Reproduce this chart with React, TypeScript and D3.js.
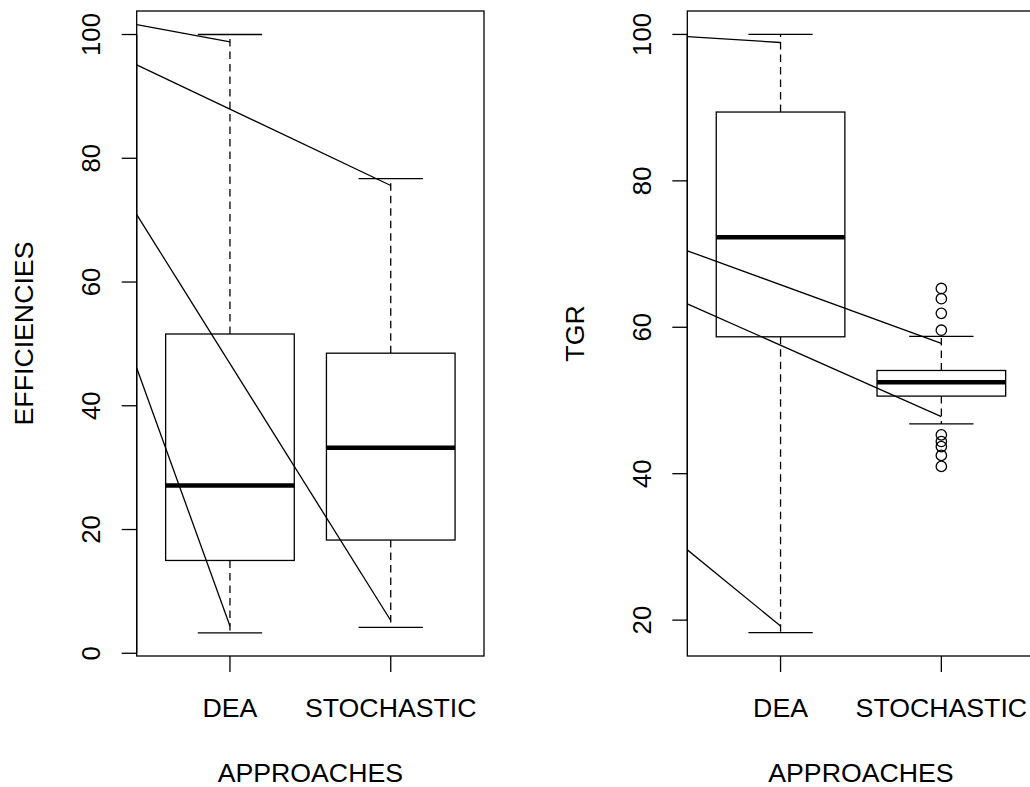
import React from "react";
import * as d3 from "d3";

const categories = ["DEA", "STOCHASTIC"];

// five-number summaries: [lowerWhisker, Q1, median, Q3, upperWhisker]
const efficiencyStats = [
  [3.3, 15.0, 27.1, 51.6, 100],
  [4.2, 18.3, 33.2, 48.5, 76.7],
];
const efficiencyOutliers: number[][] = [[], []];

const tgrStats = [
  [18.3, 58.7, 72.3, 89.4, 100],
  [46.8, 50.6, 52.5, 54.1, 58.75],
];
const tgrOutliers: number[][] = [
  [],
  [65.3, 63.9, 61.9, 59.6, 45.3, 44.4, 43.7, 42.5, 41.0],
];

// annotation lines: value at left plot edge -> category, value
const efficiencyLines = [
  { from: 101.6, to: "DEA", toValue: 98.8 },
  { from: 95.1, to: "STOCHASTIC", toValue: 75.6 },
  { from: 70.9, to: "STOCHASTIC", toValue: 5.3 },
  { from: 46.1, to: "DEA", toValue: 4.4 },
];
const tgrLines = [
  { from: 99.7, to: "DEA", toValue: 98.9 },
  { from: 70.45, to: "STOCHASTIC", toValue: 57.8 },
  { from: 63.2, to: "STOCHASTIC", toValue: 47.8 },
  { from: 29.6, to: "DEA", toValue: 19.2 },
];

const efficiencyTicks = [0, 20, 40, 60, 80, 100];
const tgrTicks = [20, 40, 60, 80, 100];

const FONT = "'Liberation Sans', Arial, Helvetica, sans-serif";
const FS = 26.7;
const FS_NUM = 25.8;
const LW = 1.3;

type Panel = {
  left: number;
  right: number;
  top: number;
  bottom: number;
  yDomain: [number, number];
  ticks: number[];
  stats: number[][];
  outliers: number[][];
  lines: { from: number; to: string; toValue: number }[];
  ylab: string;
  id: string;
};

const panels: Panel[] = [
  {
    id: "p1",
    left: 136.7,
    right: 484,
    top: 11,
    bottom: 656,
    yDomain: [-0.44, 103.8],
    ticks: efficiencyTicks,
    stats: efficiencyStats,
    outliers: efficiencyOutliers,
    lines: efficiencyLines,
    ylab: "EFFICIENCIES",
  },
  {
    id: "p2",
    left: 687.3,
    right: 1034.6,
    top: 11,
    bottom: 656,
    yDomain: [15.1, 103.2],
    ticks: tgrTicks,
    stats: tgrStats,
    outliers: tgrOutliers,
    lines: tgrLines,
    ylab: "TGR",
  },
];

function PanelView({ p }: { p: Panel }) {
  const x = d3.scaleLinear().domain([0.42, 2.58]).range([p.left, p.right]);
  const y = d3.scaleLinear().domain(p.yDomain).range([p.bottom, p.top]);
  const catX = (c: string) => x(categories.indexOf(c) + 1);
  const boxHalf = x(1.4) - x(1);
  const capHalf = boxHalf / 2;
  const cx = (p.left + p.right) / 2;
  const cy = (p.top + p.bottom) / 2;
  return (
    <g>
      <defs>
        <clipPath id={"clip-" + p.id}>
          <rect x={p.left} y={p.top} width={p.right - p.left} height={p.bottom - p.top} />
        </clipPath>
      </defs>
      {p.stats.map((s, i) => {
        const xc = x(i + 1);
        const [lo, q1, med, q3, hi] = s;
        return (
          <g key={i} stroke="#000" fill="none">
            <line x1={xc} x2={xc} y1={y(q3)} y2={y(hi)} strokeWidth={LW} strokeDasharray="7.5,5" />
            <line x1={xc} x2={xc} y1={y(q1)} y2={y(lo)} strokeWidth={LW} strokeDasharray="7.5,5" />
            <line x1={xc - capHalf} x2={xc + capHalf} y1={y(hi)} y2={y(hi)} strokeWidth={LW} />
            <line x1={xc - capHalf} x2={xc + capHalf} y1={y(lo)} y2={y(lo)} strokeWidth={LW} />
            <rect x={xc - boxHalf} y={y(q3)} width={2 * boxHalf} height={y(q1) - y(q3)} strokeWidth={LW} fill="#fff" />
            <line x1={xc - boxHalf} x2={xc + boxHalf} y1={y(med)} y2={y(med)} strokeWidth={4.5} />
            {p.outliers[i].map((o, j) => (
              <circle key={j} cx={xc} cy={y(o)} r={5.2} strokeWidth={LW} />
            ))}
          </g>
        );
      })}
      <g clipPath={`url(#clip-${p.id})`}>
        {p.lines.map((l, i) => (
          <line
            key={i}
            x1={x(0.42)}
            y1={y(l.from)}
            x2={catX(l.to)}
            y2={y(l.toValue)}
            stroke="#000"
            strokeWidth={LW}
          />
        ))}
      </g>
      <rect x={p.left} y={p.top} width={p.right - p.left} height={p.bottom - p.top} fill="none" stroke="#000" strokeWidth={LW} />
      <line x1={p.left} x2={p.left} y1={y(p.ticks[0])} y2={y(p.ticks[p.ticks.length - 1])} stroke="#000" strokeWidth={LW} />
      {p.ticks.map((t) => (
        <g key={t}>
          <line x1={p.left - 15} x2={p.left} y1={y(t)} y2={y(t)} stroke="#000" strokeWidth={LW} />
          <text
            transform={`translate(${p.left - 36.3},${y(t)}) rotate(-90)`}
            textAnchor="middle"
            fontFamily={FONT}
            fontSize={FS_NUM}
          >
            {t}
          </text>
        </g>
      ))}
      {categories.map((c, i) => (
        <g key={c}>
          <line x1={x(i + 1)} x2={x(i + 1)} y1={p.bottom} y2={p.bottom + 16} stroke="#000" strokeWidth={LW} />
          <text x={x(i + 1)} y={716.7} textAnchor="middle" fontFamily={FONT} fontSize={FS}>
            {c}
          </text>
        </g>
      ))}
      <text x={cx} y={782} textAnchor="middle" fontFamily={FONT} fontSize={FS}>
        APPROACHES
      </text>
      <text
        transform={`translate(${p.left - 103.5},${cy}) rotate(-90)`}
        textAnchor="middle"
        fontFamily={FONT}
        fontSize={FS}
      >
        {p.ylab}
      </text>
    </g>
  );
}

export default function App() {
  return (
    <svg
      width={1030}
      height={787}
      style={{ position: "absolute", left: 0, top: 0, background: "#fff" }}
    >
      <rect x={0} y={0} width={1030} height={787} fill="#fff" />
      {panels.map((p) => (
        <PanelView key={p.id} p={p} />
      ))}
    </svg>
  );
}
